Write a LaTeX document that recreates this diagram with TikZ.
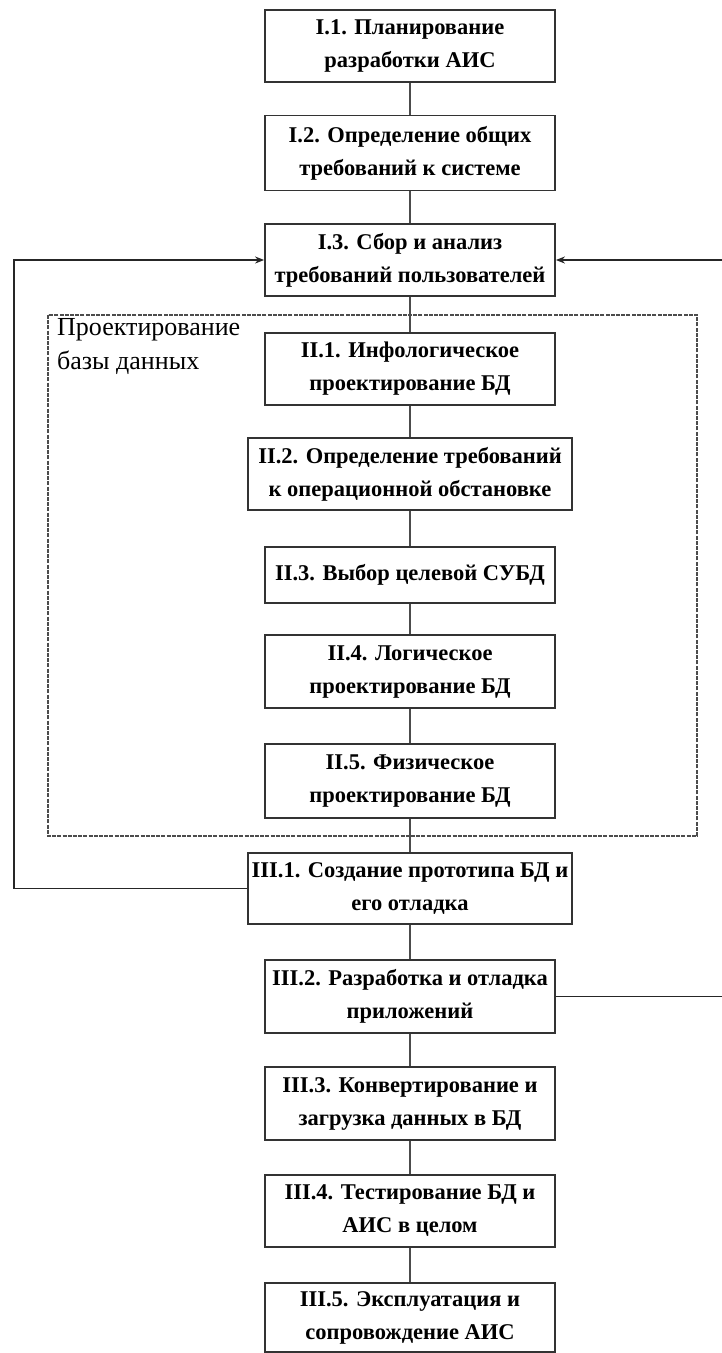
\documentclass[tikz,border=0pt]{standalone}
\usepackage{fontspec}
\setmainfont{Liberation Serif}
\usetikzlibrary{arrows.meta}
\begin{document}
\begin{tikzpicture}[x=1pt,y=-1pt,
  stagebox/.style={draw=black!80, line width=1.8pt, rectangle, align=center,
    minimum width=290pt, inner sep=2pt,
    font=\fontsize{22.5}{33}\selectfont\bfseries},
  widebox/.style={stagebox, minimum width=324pt},
  link/.style={draw=black!70, line width=1.6pt},
  feedback/.style={draw=black!85, line width=1.6pt},
  groupframe/.style={draw=black!70, line width=1.6pt, dash pattern=on 4pt off 1.2pt}]
\useasboundingbox (0,0) rectangle (722,1353);

% Stage I
\node[stagebox, minimum height=72pt] (s11) at (410,46) {I.1. Планирование\\разработки АИС};
\node[stagebox, minimum height=75pt] (s12) at (410,153) {I.2. Определение общих\\требований к системе};
\node[stagebox, minimum height=72pt] (s13) at (410,260) {I.3. Сбор и анализ\\требований пользователей};

% Stage II: database design group
\draw[groupframe] (48,315) rectangle (697,836);
\node[anchor=north west, align=left, inner sep=0pt,
  font=\fontsize{26}{34}\selectfont] (grp) at (57,318) {Проектирование\\базы данных};

\node[stagebox, minimum height=72pt] (s21) at (410,369) {II.1. Инфологическое\\проектирование БД};
\node[widebox, minimum height=72pt] (s22) at (410,474) {II.2. Определение требований\\к операционной обстановке};
\node[stagebox, minimum height=56pt] (s23) at (410,575) {II.3. Выбор целевой СУБД};
\node[stagebox, minimum height=73pt] (s24) at (410,671.5) {II.4. Логическое\\проектирование БД};
\node[stagebox, minimum height=74pt] (s25) at (410,781) {II.5. Физическое\\проектирование БД};

% Stage III
\node[widebox, minimum height=71pt] (s31) at (410,888.5) {III.1. Создание прототипа БД и\\его отладка};
\node[stagebox, minimum height=73pt] (s32) at (410,996.5) {III.2. Разработка и отладка\\приложений};
\node[stagebox, minimum height=73pt] (s33) at (410,1103.5) {III.3. Конвертирование и\\загрузка данных в БД};
\node[stagebox, minimum height=72pt] (s34) at (410,1211) {III.4. Тестирование БД и\\АИС в целом};
\node[stagebox, minimum height=69pt] (s35) at (410,1317.5) {III.5. Эксплуатация и\\сопровождение АИС};

% Sequential links
\foreach \a/\b in {s11/s12, s12/s13, s13/s21, s21/s22, s22/s23, s23/s24,
                   s24/s25, s25/s31, s31/s32, s32/s33, s33/s34, s34/s35}
  \draw[link] (\a.south) -- (\b.north);

% Feedback loops into I.3 (the right-hand return runs just past the page edge)
\coordinate (lc1) at (14,888.5);
\coordinate (lc2) at (14,260);
\draw[feedback, -{Stealth[length=9pt,width=7pt]}] (s31.west) -- (lc1) -- (lc2) -- (s13.west);
\coordinate (rc1) at (725,996.5);
\coordinate (rc2) at (725,260);
\draw[feedback, -{Stealth[length=9pt,width=7pt]}] (s32.east) -- (rc1) -- (rc2) -- (s13.east);
\end{tikzpicture}
\end{document}
